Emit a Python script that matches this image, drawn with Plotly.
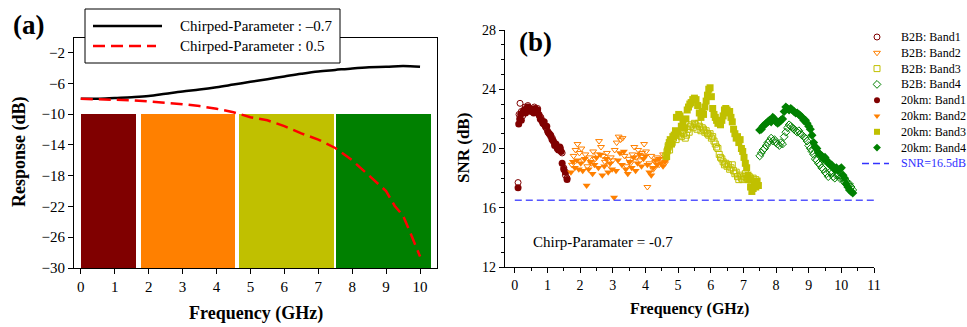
import plotly.graph_objects as go

W, H = 967, 327
FONT = "Liberation Serif"

# ---------------- panel (a) data ----------------
f_resp_black = [0, 0.5, 1, 1.5, 2, 2.5, 3, 3.5, 4, 4.5, 5, 5.5, 6, 6.5, 7, 7.5, 8, 8.5, 9, 9.5, 10]
resp_black = [-8.0, -8.0, -7.9, -7.8, -7.65, -7.35, -7.05, -6.8, -6.5, -6.15, -5.8, -5.45,
              -5.1, -4.75, -4.45, -4.25, -4.05, -3.9, -3.85, -3.75, -3.85]
f_resp_red = [0, 0.5, 1, 1.5, 2, 2.5, 3, 3.5, 4, 4.5, 5, 5.5, 6, 6.5, 7, 7.5, 8, 8.5, 9,
              9.25, 9.5, 9.75, 10]
resp_red = [-8.0, -8.05, -8.1, -8.2, -8.35, -8.5, -8.7, -8.95, -9.3, -9.75, -10.4, -10.8,
            -11.55, -12.5, -13.3, -14.4, -16.0, -18.0, -20.0, -21.9, -23.2, -25.8, -28.5]
band_start = [0.0, 1.77, 4.65, 7.53]
band_end = [1.63, 4.56, 7.45, 10.33]
band_top = -10
band_bottom = -30
band_colors = ["#800000", "#FF8000", "#C0C000", "#008000"]
legend_a_labels = ["Chirped-Parameter : \u20130.7", "Chirped-Parameter : 0.5"]

# ---------------- panel (b) data ----------------
b2b_b1_f = [0.10, 0.13, 0.16, 0.20, 0.24, 0.28, 0.32, 0.36, 0.40, 0.45, 0.50, 0.55, 0.60, 0.65,
            0.70, 0.75, 0.80, 0.85, 0.90, 0.95, 1.00, 1.05, 1.10, 1.15, 1.20, 1.25, 1.30, 1.35,
            1.40, 1.45, 1.50, 1.55, 1.60]
b2b_b1_snr = [17.7, 22.3, 23.05, 22.5, 22.2, 22.6, 22.8, 22.5, 22.9, 22.7, 22.6, 22.5, 22.8, 22.6,
              22.7, 22.2, 22.1, 21.8, 21.6, 21.4, 21.2, 21.0, 20.8, 20.7, 20.4, 20.2, 20.1, 19.9,
              20.0, 19.7, 18.7, 18.2, 18.0]
km_b1_f = [0.10, 0.12, 0.15, 0.18, 0.20, 0.23, 0.26, 0.30, 0.33, 0.36, 0.40, 0.43, 0.47, 0.50,
           0.54, 0.58, 0.62, 0.66, 0.70, 0.74, 0.78, 0.82, 0.86, 0.90, 0.94, 0.98, 1.02, 1.06,
           1.10, 1.14, 1.18, 1.22, 1.26, 1.30, 1.34, 1.38, 1.42, 1.45, 1.50, 1.55, 1.60]
km_b1_snr = [17.35, 21.65, 22.0, 22.3, 21.9, 22.4, 22.5, 22.6, 22.4, 22.7, 22.8, 22.6, 22.7, 22.5,
             22.6, 22.4, 22.7, 22.5, 22.6, 22.3, 22.0, 21.9, 21.7, 21.8, 21.5, 21.5, 21.1, 21.0,
             20.9, 20.6, 20.5, 20.2, 20.3, 20.0, 19.9, 20.1, 19.8, 19.0, 18.6, 18.4, 17.9]

b2b_b2_f = [1.75, 1.80, 1.86, 1.92, 1.98, 2.04, 2.10, 2.16, 2.22, 2.28, 2.34, 2.40, 2.46, 2.52,
            2.58, 2.64, 2.70, 2.76, 2.82, 2.88, 2.94, 3.00, 3.06, 3.12, 3.18, 3.24, 3.30, 3.36,
            3.42, 3.48, 3.54, 3.60, 3.66, 3.72, 3.78, 3.84, 3.90, 3.96, 4.02, 4.06, 4.12, 4.18,
            4.24, 4.30, 4.36, 4.42, 4.48, 4.54, 4.60]
b2b_b2_snr = [18.9, 19.5, 19.9, 20.3, 19.7, 20.0, 19.2, 19.6, 18.8, 19.4, 19.0, 19.8, 19.3, 19.6,
              20.5, 20.1, 19.5, 19.1, 19.7, 18.9, 19.4, 19.2, 19.9, 20.4, 20.8, 20.6, 20.7, 19.5,
              18.8, 19.3, 19.0, 19.6, 20.1, 19.4, 19.9, 19.2, 19.7, 20.3, 19.8, 17.4, 19.0, 19.5,
              18.6, 19.1, 19.4, 18.9, 19.3, 19.6, 19.0]
km_b2_f = [1.72, 1.78, 1.84, 1.90, 1.96, 2.02, 2.08, 2.14, 2.20, 2.26, 2.32, 2.38, 2.44, 2.50,
           2.56, 2.62, 2.68, 2.74, 2.80, 2.86, 2.92, 2.98, 3.04, 3.10, 3.16, 3.22, 3.28, 3.34,
           3.40, 3.46, 3.52, 3.58, 3.64, 3.70, 3.76, 3.82, 3.88, 3.94, 4.00, 4.06, 4.12, 4.18,
           4.24, 4.30, 4.36, 4.42, 4.48, 4.54, 4.60]
km_b2_snr = [18.4, 19.1, 18.7, 19.2, 18.6, 19.0, 18.5, 19.3, 17.5, 18.6, 19.1, 18.3, 18.9, 19.4,
             18.7, 19.6, 18.2, 18.8, 19.3, 18.4, 19.0, 18.6, 16.7, 18.5, 19.2, 19.7, 18.9, 19.8,
             18.6, 18.3, 19.1, 18.7, 19.4, 18.5, 19.0, 19.6, 18.8, 19.3, 19.5, 18.9, 18.4, 18.2,
             18.7, 19.2, 18.9, 19.3, 19.0, 18.8, 19.1]

b2b_b3_f = [4.62, 4.66, 4.70, 4.74, 4.78, 4.82, 4.86, 4.90, 4.94, 4.98, 5.02, 5.06, 5.10, 5.14,
            5.18, 5.22, 5.26, 5.30, 5.34, 5.38, 5.42, 5.46, 5.50, 5.54, 5.58, 5.62, 5.66, 5.70,
            5.74, 5.78, 5.82, 5.86, 5.90, 5.94, 5.98, 6.02, 6.06, 6.10, 6.14, 6.18, 6.22, 6.26,
            6.30, 6.34, 6.38, 6.42, 6.46, 6.50, 6.54, 6.58, 6.62, 6.66, 6.70, 6.74, 6.78, 6.82,
            6.86, 6.90, 6.94, 6.98, 7.02, 7.06, 7.10, 7.14, 7.18, 7.22, 7.26, 7.30, 7.34, 7.38]
b2b_b3_snr = [19.5, 19.8, 20.2, 19.9, 20.5, 20.4, 20.7, 20.9, 20.6, 21.0, 20.9, 21.1, 20.8, 21.2,
              21.0, 20.7, 20.9, 21.3, 21.1, 21.5, 21.6, 21.4, 21.7, 21.6, 21.3, 21.7, 21.5, 21.2,
              21.4, 21.3, 21.1, 21.2, 21.0, 20.9, 21.0, 20.7, 20.8, 20.5, 20.3, 20.1, 20.0, 19.6,
              19.4, 19.3, 19.1, 18.9, 19.0, 18.8, 18.9, 18.6, 18.7, 18.9, 18.5, 18.3, 18.4, 18.1,
              17.9, 18.2, 18.0, 17.9, 18.1, 18.3, 18.0, 17.9, 18.1, 18.0, 17.8, 18.0, 17.7, 17.9]
km_b3_f = [4.65, 4.68, 4.70, 4.73, 4.76, 4.80, 4.84, 4.88, 4.92, 4.95, 4.98, 5.02, 5.06, 5.10,
           5.15, 5.20, 5.24, 5.28, 5.32, 5.36, 5.40, 5.45, 5.50, 5.55, 5.60, 5.65, 5.70, 5.74,
           5.78, 5.82, 5.86, 5.90, 5.94, 5.98, 6.02, 6.06, 6.10, 6.14, 6.18, 6.22, 6.26, 6.30,
           6.34, 6.38, 6.42, 6.46, 6.50, 6.54, 6.58, 6.62, 6.66, 6.70, 6.74, 6.78, 6.82, 6.86,
           6.90, 6.94, 6.98, 7.02, 7.06, 7.10, 7.14, 7.18, 7.22, 7.26, 7.30, 7.34, 7.38, 7.42, 7.46]
km_b3_snr = [19.45, 19.9, 20.1, 20.4, 20.6, 20.3, 20.8, 20.9, 21.2, 22.1, 21.1, 22.3, 22.2, 21.5,
             21.8, 21.4, 22.0, 22.6, 22.8, 23.0, 23.1, 23.3, 23.4, 23.3, 22.9, 22.4, 22.1, 22.5,
             22.3, 22.8, 23.2, 23.6, 24.0, 24.1, 23.5, 22.7, 22.3, 22.1, 21.9, 21.7, 21.8, 21.6,
             21.9, 22.2, 22.6, 22.7, 22.6, 22.4, 22.5, 22.1, 21.8, 21.3, 21.0, 20.7, 20.8, 20.4,
             20.6, 20.0, 19.8, 19.4, 19.0, 18.7, 18.2, 17.9, 17.4, 17.1, 17.3, 17.6, 17.4, 17.8, 17.5]

b2b_b4_f = [7.50, 7.55, 7.60, 7.65, 7.70, 7.75, 7.80, 7.85, 7.90, 7.95, 8.00, 8.05, 8.10, 8.15,
            8.20, 8.25, 8.30, 8.35, 8.40, 8.45, 8.50, 8.55, 8.60, 8.65, 8.70, 8.75, 8.80, 8.85,
            8.90, 8.95, 9.00, 9.05, 9.10, 9.15, 9.20, 9.25, 9.30, 9.35, 9.40, 9.45, 9.50, 9.55,
            9.60, 9.65, 9.70, 9.75, 9.80, 9.85, 9.90, 9.95, 10.00, 10.05, 10.10, 10.15, 10.20,
            10.25, 10.30, 10.35]
b2b_b4_snr = [19.5, 19.7, 19.9, 20.0, 20.2, 20.4, 20.5, 20.7, 20.5, 20.6, 20.4, 20.3, 20.2, 20.4,
              20.3, 20.8, 21.1, 21.4, 21.6, 21.5, 21.4, 21.3, 21.2, 21.1, 21.2, 21.0, 20.9, 20.8,
              20.7, 20.5, 20.2, 20.0, 19.8, 19.6, 19.3, 19.2, 19.0, 18.9, 18.7, 18.6, 18.4, 18.3,
              18.1, 18.4, 18.3, 18.1, 18.0, 18.2, 18.2, 18.0, 18.1, 17.9, 17.7, 17.8, 17.6, 17.6,
              17.4, 17.2]
km_b4_f = [7.50, 7.55, 7.60, 7.65, 7.70, 7.75, 7.80, 7.85, 7.90, 7.95, 8.00, 8.05, 8.10, 8.15,
           8.20, 8.25, 8.30, 8.35, 8.40, 8.45, 8.50, 8.55, 8.60, 8.65, 8.70, 8.75, 8.80, 8.85,
           8.90, 8.95, 9.00, 9.05, 9.10, 9.15, 9.20, 9.25, 9.30, 9.35, 9.40, 9.45, 9.50, 9.55,
           9.60, 9.65, 9.70, 9.75, 9.80, 9.85, 9.90, 9.95, 10.00, 10.05, 10.10, 10.15, 10.20,
           10.25, 10.30, 10.35]
km_b4_snr = [21.25, 21.3, 21.5, 21.6, 21.7, 21.8, 21.9, 21.8, 22.1, 22.0, 21.8, 21.7, 21.8, 21.9,
             22.0, 22.5, 22.8, 22.7, 22.6, 22.7, 22.6, 22.5, 22.4, 22.4, 22.3, 22.2, 22.1, 21.9,
             21.9, 21.7, 21.5, 21.3, 20.9, 20.4, 20.1, 20.0, 19.7, 19.6, 19.5, 19.3, 19.4, 19.2,
             19.0, 18.9, 18.9, 18.7, 18.6, 18.7, 18.5, 18.6, 18.7, 18.2, 18.0, 17.6, 17.4, 17.2,
             17.1, 17.0]

snr_threshold = 16.5
snr_line_f = [0, 11]
snr_label = "SNR=16.5dB"
series_b_labels = ["B2B: Band1", "B2B: Band2", "B2B: Band3", "B2B: Band4",
                   "20km: Band1", "20km: Band2", "20km: Band3", "20km: Band4"]

# ---------------- helpers ----------------
def px_x(p):
    return p / W

def px_y(p):
    return 1 - p / H

fig = go.Figure()

# panel (a) bands
centers = [(s + e) / 2 for s, e in zip(band_start, band_end)]
widths = [e - s for s, e in zip(band_start, band_end)]
fig.add_trace(go.Bar(
    x=centers, y=[band_top - band_bottom] * 4, base=[band_bottom] * 4, width=widths,
    marker=dict(color=band_colors, line=dict(width=0)),
    showlegend=False, xaxis="x", yaxis="y", hoverinfo="skip"))

BLACK_LINE = dict(color="black", width=2.5)
RED_LINE = dict(color="#FF0000", width=2.5, dash="12px,6px")
fig.add_trace(go.Scatter(x=f_resp_black, y=resp_black, mode="lines", name=legend_a_labels[0],
                         line=dict(shape="spline", **BLACK_LINE), xaxis="x", yaxis="y", showlegend=False))
fig.add_trace(go.Scatter(x=f_resp_red, y=resp_red, mode="lines", name=legend_a_labels[1],
                         line=RED_LINE, xaxis="x", yaxis="y", showlegend=False))

# panel (b)
band_b2b = [(b2b_b1_f, b2b_b1_snr), (b2b_b2_f, b2b_b2_snr), (b2b_b3_f, b2b_b3_snr), (b2b_b4_f, b2b_b4_snr)]
band_km = [(km_b1_f, km_b1_snr), (km_b2_f, km_b2_snr), (km_b3_f, km_b3_snr), (km_b4_f, km_b4_snr)]
open_syms = ["circle-open", "triangle-down-open", "square-open", "diamond-open"]
fill_syms = ["circle", "triangle-down", "square", "diamond"]
marker_styles = []
for i in range(4):
    marker_styles.append(dict(symbol=open_syms[i], color=band_colors[i], line=dict(width=1, color=band_colors[i])))
for i in range(4):
    marker_styles.append(dict(symbol=fill_syms[i], color=band_colors[i], line=dict(width=0)))

all_series = band_b2b + band_km
for k, (fx, sy) in enumerate(all_series):
    size = 6 if k < 4 else 7
    fig.add_trace(go.Scatter(x=fx, y=sy, mode="markers", name=series_b_labels[k],
                             marker=dict(size=size, **marker_styles[k]),
                             xaxis="x2", yaxis="y2", showlegend=False))

SNR_LINE = dict(color="#5555FF", width=1.5, dash="7px,4px")
fig.add_trace(go.Scatter(x=snr_line_f, y=[snr_threshold] * 2, mode="lines", name=snr_label,
                         line=SNR_LINE, xaxis="x2", yaxis="y2", showlegend=False))

# ---------------- legend keys for panel (b) on a pixel-scaled overlay axis ----------------
leg_b_x_marker = 877
leg_b_x_text = 899
leg_b_y0 = 37
leg_b_dy = 15.8
for k in range(8):
    yk = leg_b_y0 + leg_b_dy * k
    fig.add_trace(go.Scatter(x=[leg_b_x_marker], y=[yk], mode="markers",
                             marker=dict(size=6, **marker_styles[k]),
                             xaxis="x3", yaxis="y3", showlegend=False, hoverinfo="skip"))
    fig.add_annotation(xref="paper", yref="paper", x=px_x(leg_b_x_text), y=px_y(yk), text=series_b_labels[k],
                       showarrow=False, xanchor="left", yanchor="middle",
                       font=dict(family=FONT, size=12, color="black"))
y_snr = leg_b_y0 + leg_b_dy * 8
fig.add_trace(go.Scatter(x=[862, 889], y=[y_snr, y_snr], mode="lines", line=dict(color="#3333FF", width=1.5, dash="7px,4px"),
                         xaxis="x3", yaxis="y3", showlegend=False, hoverinfo="skip"))
fig.add_annotation(xref="paper", yref="paper", x=px_x(leg_b_x_text), y=px_y(y_snr), text=snr_label,
                   showarrow=False, xanchor="left", yanchor="middle",
                   font=dict(family=FONT, size=12, color="#2E2EFF"))

# ---------------- legend for panel (a): boxed ----------------
fig.add_shape(type="rect", xref="paper", yref="paper", x0=px_x(85), x1=px_x(340), y0=px_y(63), y1=px_y(9),
              line=dict(color="black", width=1), fillcolor="white", layer="above")
fig.add_shape(type="line", xref="paper", yref="paper", x0=px_x(93), x1=px_x(162), y0=px_y(26), y1=px_y(26),
              line=BLACK_LINE, layer="above")
fig.add_shape(type="line", xref="paper", yref="paper", x0=px_x(93), x1=px_x(156), y0=px_y(46), y1=px_y(46),
              line=RED_LINE, layer="above")
for k, yk in enumerate([26, 46]):
    fig.add_annotation(xref="paper", yref="paper", x=px_x(178), y=px_y(yk), text=legend_a_labels[k],
                       showarrow=False, xanchor="left", yanchor="middle",
                       font=dict(family=FONT, size=15, color="black"))

axis_common = dict(showgrid=False, zeroline=False, showline=True, linecolor="black", linewidth=1.2,
                   ticks="outside", tickcolor="black", automargin=False)

fig.update_layout(
    width=W, height=H, margin=dict(l=0, r=0, t=0, b=0),
    paper_bgcolor="white", plot_bgcolor="rgba(0,0,0,0)",
    font=dict(family=FONT, color="black"),
    barmode="overlay", bargap=0, showlegend=False,
    xaxis=dict(domain=[px_x(74), px_x(437)], range=[-0.2, 10.5], tickvals=list(range(0, 11)),
               mirror=True, ticklen=5, tickfont=dict(size=15), anchor="y", **axis_common),
    yaxis=dict(domain=[px_y(268), px_y(38)], range=[-30, -0.1], tickvals=list(range(-30, 0, 4)),
               mirror=True, ticklen=5, tickfont=dict(size=15), anchor="x", **axis_common),
    xaxis2=dict(domain=[px_x(505), px_x(874)], range=[-0.3, 11], tickvals=list(range(0, 12)),
                ticklen=5, tickfont=dict(size=14), anchor="y2",
                minor=dict(tickvals=[k + 0.5 for k in range(11)], ticklen=3, ticks="outside", tickcolor="black"),
                **axis_common),
    yaxis2=dict(domain=[px_y(267), px_y(30)], range=[12, 28], tickvals=[12, 16, 20, 24, 28],
                ticklen=5, tickfont=dict(size=14), anchor="x2",
                minor=dict(tickvals=[v for v in range(13, 28) if v % 4 != 0], ticklen=3, ticks="outside", tickcolor="black"),
                **axis_common),
    xaxis3=dict(domain=[0, 1], range=[0, W], visible=False, anchor="y3", fixedrange=True),
    yaxis3=dict(domain=[0, 1], range=[H, 0], visible=False, anchor="x3", fixedrange=True),
)

annots = [
    dict(text="<b>(a)</b>", x=28, y=25, size=27),
    dict(text="<b>(b)</b>", x=535, y=42, size=27),
    dict(text="<b>Response (dB)</b>", x=20, y=152, size=18, angle=-90),
    dict(text="<b>Frequency (GHz)</b>", x=256, y=313, size=18),
    dict(text="<b>SNR (dB)</b>", x=463, y=148, size=17, angle=-90),
    dict(text="<b>Frequency (GHz)</b>", x=689, y=309, size=16),
]
for a in annots:
    fig.add_annotation(xref="paper", yref="paper", showarrow=False, xanchor="center", yanchor="middle",
                       font=dict(family=FONT, color="black", size=a["size"]),
                       text=a["text"], x=px_x(a["x"]), y=px_y(a["y"]), textangle=a.get("angle", 0))
fig.add_annotation(xref="paper", yref="paper", showarrow=False, xanchor="left", yanchor="middle",
                   text="Chirp-Paramater = -0.7", x=px_x(531), y=px_y(242),
                   font=dict(family=FONT, size=15, color="black"))

fig.write_html("out.html", config={"displayModeBar": False},
               post_script="document.body.style.margin='0';document.body.style.overflow='hidden';")
